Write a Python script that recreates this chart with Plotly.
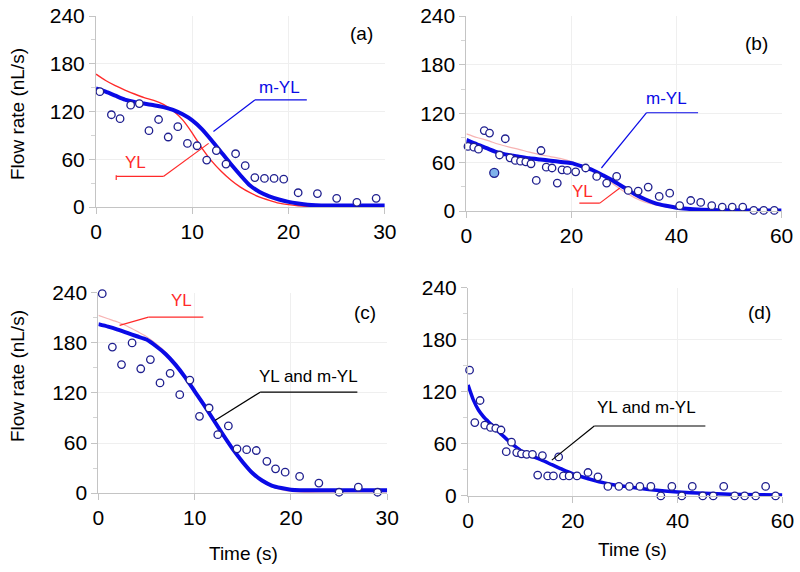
import plotly.graph_objects as go

# ---- panel (a) ----
a_t = [0.4, 1.6, 2.5, 3.6, 4.5, 5.5, 6.5, 7.5, 8.5, 9.5, 10.5, 11.5, 12.5,
       13.5, 14.5, 15.5, 16.5, 17.5, 18.5, 19.5, 21.0, 23.0, 25.0, 27.1, 29.1]
a_q = [145, 116, 111, 128, 130, 96, 110, 88, 101, 80, 77, 59, 71,
       54, 67, 52, 37, 36, 36, 35, 18, 17, 11, 6, 11]
a_fit_t = [0, 1, 2, 3, 4, 5, 6, 7, 8, 9, 10, 11, 12, 13, 14, 15, 16, 17, 18,
           19, 20, 21, 22, 24, 26, 28, 30]
a_myl = [149, 145, 140, 135, 132, 130, 128, 125.5, 122, 116.5, 109, 98, 84,
         69, 54, 40, 27, 19, 13.5, 9.5, 6.5, 4.5, 3, 2, 2, 2, 2]
a_yl_t = [0, 1, 2, 3, 4, 5, 6, 7, 8, 9, 10, 11, 12, 13, 14, 15, 16, 17, 18,
          19, 20, 21, 22, 23, 25]
a_yl = [167, 159, 152.5, 147, 142, 137.5, 134, 129, 121, 109.5, 93, 74, 58,
        45, 34, 25, 18, 12.5, 8.5, 5, 3, 1.7, 0.9, 0.4, 0.2]

# ---- panel (b) ----
b_t = [0.3, 1.4, 2.3, 3.4, 4.4, 6.3, 7.4, 8.3, 9.3, 10.3, 11.3, 12.3, 13.3,
       14.2, 15.2, 16.3, 17.3, 18.2, 19.2, 20.8, 22.7, 24.8, 26.7, 28.6, 30.8,
       32.7, 34.6, 36.7, 38.7, 40.6, 42.7, 44.6, 46.7, 48.7, 50.6, 52.6, 54.7,
       56.6, 58.6]
b_q = [79.5, 78.6, 76.2, 99, 96, 69, 89, 65.5, 62.3, 61.4, 60.6, 58.2, 37.7,
       74.5, 54, 53, 34.4, 50.8, 50, 48.3, 53, 42.6, 34.4, 42.6, 25.4,
       24.6, 29.5, 18, 22, 6.6, 13, 10.6, 6.6, 4.9, 4.9, 4.9, 0.8,
       0.8, 0.8]
b_out_t = [5.3]
b_out_q = [47]
b_fit_t = [0, 2, 4, 6, 8, 10, 12, 14, 16, 18, 20, 22, 24, 26, 28, 30, 32, 34,
           36, 38, 40, 42, 44, 48, 54, 60]
b_myl = [87.5, 82, 77, 72, 69, 67, 65, 63.5, 62, 60.5, 59, 55, 50.5, 44, 37,
         29, 21, 14.5, 9.5, 6.5, 4.2, 2.8, 1.8, 1.0, 0.8, 0.8]
b_yl_t = [0, 2, 4, 6, 8, 10, 12, 14, 16, 18, 20, 22, 24, 26, 28, 30, 32, 34,
          36, 38, 40, 44, 48, 52]
b_yl = [95, 90.5, 87, 82.5, 79, 76, 72.5, 69.5, 67, 64.5, 61, 56, 50, 43, 33,
        24, 16.5, 11, 7.5, 5, 3, 1.5, 0.6, 0.2]

# ---- panel (c) ----
c_t = [0.4, 1.45, 2.4, 3.5, 4.4, 5.4, 6.4, 7.45, 8.45, 9.5, 10.5, 11.5, 12.4,
       13.5, 14.4, 15.4, 16.4, 17.5, 18.4, 19.4, 20.9, 22.9, 25.0, 27.0, 29.0]
c_q = [239, 175, 154, 180, 149, 160, 132, 143.5, 118, 135.5, 92, 102, 70,
       80.5, 53, 52, 51, 38, 29, 25, 20, 12, 1, 7, 1]
c_fit_t = [0, 1, 2, 3, 4, 5, 6, 7, 8, 9, 10, 11, 12, 13, 14, 15, 16, 17, 18,
           19, 20, 21, 22, 26, 30]
c_myl = [202.5, 199.5, 196, 192, 188, 184, 176, 166.5, 154, 139, 122, 105, 87,
         69, 52, 37, 24, 15, 9, 6, 4, 3.5, 3.5, 3.5, 3.5]
c_yl_t = [0, 1, 2, 3, 4, 5, 6, 7, 8, 9, 10, 11, 12, 13, 14, 15, 16, 17, 18,
          19, 20, 22, 26, 30]
c_yl = [213, 209, 205, 200, 194, 187.5, 179, 168.5, 155, 139.5, 122, 104, 86,
        68, 51, 36, 23.5, 14, 8, 4, 2, 0.5, 0, 0]

# ---- panel (d) ----
d_t = [0.3, 1.3, 2.3, 3.2, 4.3, 5.3, 6.3, 7.3, 8.3, 9.3, 10.2, 11.2, 12.3,
       13.3, 14.2, 15.2, 16.3, 17.3, 18.2, 19.3, 20.8, 22.9, 24.8, 26.7, 28.8,
       30.8, 32.8, 34.9, 36.8, 38.9, 40.8, 42.8, 44.8, 46.8, 48.8, 50.9, 52.8,
       54.9, 56.8, 58.7]
d_q = [145, 84.5, 110, 81.5, 79, 78, 76, 51, 62, 50, 48.5, 48, 48,
       24, 46.5, 23, 23, 45, 23, 23, 23, 27, 22, 11, 11,
       11, 11, 11, 0, 11, 0, 11, 0, 0, 11, 0, 0,
       0, 11, 0]
d_fit_t = [0, 1, 2, 3, 4, 5, 6, 7, 8, 9, 10, 11, 12, 14, 16, 18, 20, 22, 24,
           26, 28, 30, 33, 36, 40, 45, 50, 55, 60]
d_myl = [128, 111, 99, 91, 85, 79.5, 73, 67.5, 62, 57, 52.5, 49.5, 46.5, 41.5,
         36, 30.5, 25.5, 21.5, 18, 15, 12.5, 11, 8.5, 6.5, 4.5, 3, 2, 1.5, 1.2]

FONT = "Arial, 'Liberation Sans', sans-serif"
NAVY = "#1f1f8f"
BLUE = "#0a0ae6"
RED = "#ff2a2a"
PINK = "#f7b4b4"

domains = {
    1: ([0.120, 0.481], [0.638, 0.972], 30, 10),
    2: ([0.583, 0.977], [0.631, 0.972], 60, 20),
    3: ([0.123, 0.484], [0.138, 0.488], 30, 10),
    4: ([0.585, 0.978], [0.133, 0.497], 60, 20),
}

fig = go.Figure()


def ax(i):
    return ("x" if i == 1 else f"x{i}"), ("y" if i == 1 else f"y{i}")


def add_line(i, t, v, color, width):
    xa, ya = ax(i)
    fig.add_trace(go.Scatter(x=t, y=v, mode="lines", xaxis=xa, yaxis=ya,
                             line=dict(color=color, width=width, shape="spline", smoothing=0.6),
                             hoverinfo="skip"))


def add_points(i, t, v, fill="white", size=7.5):
    xa, ya = ax(i)
    fig.add_trace(go.Scatter(x=t, y=v, mode="markers", xaxis=xa, yaxis=ya, cliponaxis=False,
                             marker=dict(symbol="circle", size=size, color=fill,
                                         line=dict(color=NAVY, width=1.3))))


add_line(1, a_yl_t, a_yl, RED, 1.4)
add_line(1, a_fit_t, a_myl, BLUE, 4)
add_points(1, a_t, a_q)

add_line(2, b_yl_t, b_yl, PINK, 1.2)
add_line(2, b_fit_t, b_myl, BLUE, 4)
add_points(2, b_t, b_q)
add_points(2, b_out_t, b_out_q, fill="#7fb2ea", size=9)

add_line(3, c_yl_t, c_yl, PINK, 1.2)
add_line(3, c_fit_t, c_myl, BLUE, 4)
add_points(3, c_t, c_q)

add_line(4, d_fit_t, d_myl, BLUE, 3.5)
add_points(4, d_t, d_q)

layout = dict(
    width=800, height=572, margin=dict(l=0, r=0, t=0, b=0),
    paper_bgcolor="white", plot_bgcolor="white", showlegend=False,
    font=dict(family=FONT, size=18, color="black"),
)
for i, (dx, dy, xmax, xstep) in domains.items():
    xk = "xaxis" if i == 1 else f"xaxis{i}"
    yk = "yaxis" if i == 1 else f"yaxis{i}"
    xa, ya = ax(i)
    layout[xk] = dict(domain=dx, anchor=ya, range=[0, xmax], dtick=xstep, automargin=False,
                      showline=True, linecolor="#c4c4c4", linewidth=1,
                      showgrid=True, gridcolor="#efefef", zeroline=False,
                      ticks="outside", ticklen=6, tickcolor="#c4c4c4",
                      tickfont=dict(size=21))
    layout[yk] = dict(domain=dy, anchor=xa, range=[0, 240], dtick=60, automargin=False,
                      showline=True, linecolor="#c4c4c4", linewidth=1,
                      showgrid=True, gridcolor="#efefef", zeroline=False,
                      ticks="outside", ticklen=6, tickcolor="#c4c4c4",
                      minor=dict(dtick=30, ticks="outside", ticklen=4, tickcolor="#d4d4d4"),
                      tickfont=dict(size=21))
fig.update_layout(**layout)


def seg(i, pts, color):
    xa, ya = ax(i)
    for (x0, y0), (x1, y1) in zip(pts[:-1], pts[1:]):
        fig.add_shape(type="line", xref=xa, yref=ya, x0=x0, y0=y0, x1=x1, y1=y1,
                      line=dict(color=color, width=1.2))


def label(i, x, y, text, color="black", size=17):
    xa, ya = ax(i)
    fig.add_annotation(xref=xa, yref=ya, x=x, y=y, text=text, showarrow=False,
                       font=dict(size=size, color=color))


# leader lines and labels
seg(1, [(12.2, 95), (16.5, 134.6), (21.9, 134.6)], BLUE)
label(1, 19.1, 150, "m-YL", BLUE)
seg(1, [(2.1, 34), (2.1, 40)], RED)
seg(1, [(2.1, 38.5), (7.0, 38.5), (11.7, 80)], RED)
label(1, 4.1, 56, "YL", RED)
label(1, 27.6, 218, "(a)", size=19)

seg(2, [(25.7, 53), (34.3, 121), (44.1, 121)], BLUE)
label(2, 38.1, 139, "m-YL", BLUE)
seg(2, [(21.5, 9.8), (25.4, 9.8), (29.2, 28.3)], RED)
label(2, 22.1, 24, "YL", RED)
label(2, 55.2, 206, "(b)", size=19)

seg(3, [(2.2, 201), (5.2, 211), (10.9, 211)], RED)
label(3, 8.6, 231, "YL", RED)
seg(3, [(12.1, 87), (16.8, 121), (26.9, 121)], "black")
label(3, 21.8, 139.5, "YL and m-YL")
label(3, 27.7, 217, "(c)", size=19)

seg(4, [(16.0, 41.3), (24.1, 80.6), (45.3, 80.6)], "black")
label(4, 34.1, 102, "YL and m-YL")
label(4, 55.7, 212, "(d)", size=19)

# axis titles
for x, y, text, angle in [(18, 114, "Flow rate (nL/s)", -90), (18, 376, "Flow rate (nL/s)", -90),
                          (243, 553, "Time (s)", 0), (632, 549, "Time (s)", 0)]:
    fig.add_annotation(xref="paper", yref="paper", x=x / 800, y=1 - y / 572, text=text,
                       showarrow=False, textangle=angle, font=dict(size=19),
                       xanchor="center", yanchor="middle")

fig.write_html("out.html", config={"displayModeBar": False},
               post_script="document.body.style.margin='0';")
